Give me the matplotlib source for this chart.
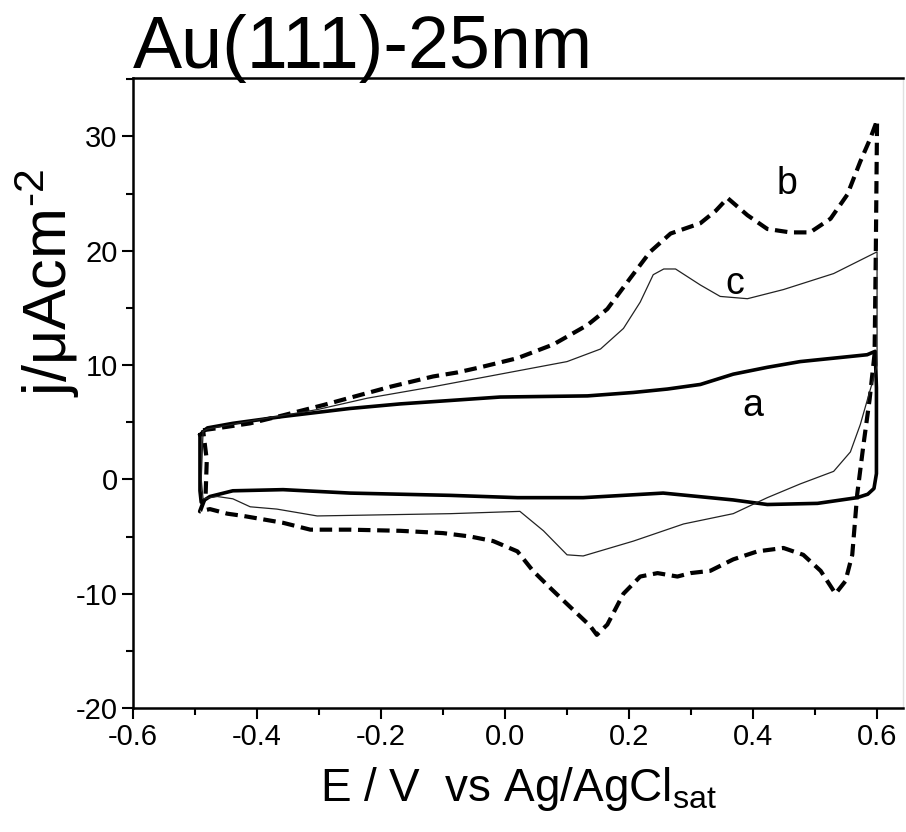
import matplotlib.pyplot as plt
from matplotlib.ticker import MultipleLocator

plt.rcParams['font.family'] = ['Liberation Sans', 'DejaVu Sans']
plt.rcParams['mathtext.fontset'] = 'custom'
plt.rcParams['mathtext.rm'] = 'Liberation Sans'
plt.rcParams['mathtext.it'] = 'Liberation Sans'
plt.rcParams['axes.unicode_minus'] = False

#Curve a - thick solid
E_a = [-0.492, -0.48, -0.439, -0.358, -0.250, -0.169, -0.088, -0.008, 0.133, 0.207,
       0.262, 0.315, 0.368, 0.423, 0.476, 0.530, 0.584, 0.597, 0.599, 0.599,
       0.595, 0.585, 0.568, 0.504, 0.423, 0.368, 0.255, 0.126, 0.020, -0.088,
       -0.250, -0.358, -0.439, -0.476, -0.490, -0.492, -0.492]
j_a = [3.9, 4.5, 4.9, 5.5, 6.2, 6.6, 6.9, 7.2, 7.3, 7.6,
       7.9, 8.3, 9.2, 9.8, 10.3, 10.6, 10.9, 11.2, 8.0, 0.5,
       -0.8, -1.3, -1.6, -2.1, -2.2, -1.8, -1.2, -1.6, -1.6, -1.4,
       -1.2, -0.9, -1.0, -1.5, -2.0, -1.0, 3.9]

#Curve b - dashed
E_b = [-0.487, -0.448, -0.411, -0.358, -0.293, -0.239, -0.185, -0.116, -0.077, -0.040,
       0.020, 0.078, 0.133, 0.165, 0.202, 0.234, 0.267, 0.315, 0.340, 0.359,
       0.391, 0.423, 0.460, 0.492, 0.525, 0.552, 0.573, 0.589, 0.600,
       0.598, 0.596, 0.588, 0.578, 0.568, 0.560, 0.549, 0.533,
       0.509, 0.481, 0.449, 0.407, 0.368, 0.331, 0.299, 0.278, 0.246, 0.218,
       0.191, 0.165, 0.148, 0.137, 0.100, 0.073, 0.045, 0.020, -0.019, -0.056,
       -0.100, -0.169, -0.250, -0.314, -0.358, -0.390, -0.422, -0.448, -0.476, -0.492,
       -0.483, -0.481, -0.487]
j_b = [4.3, 4.6, 4.9, 5.6, 6.5, 7.3, 8.1, 9.0, 9.35, 9.8,
       10.6, 11.8, 13.5, 14.9, 17.6, 19.9, 21.5, 22.4, 23.5, 24.6,
       23.1, 21.9, 21.6, 21.6, 22.8, 24.9, 27.8, 29.8, 31.4,
       20.0, 11.0, 7.0, 3.0, -1.3, -6.6, -8.9, -10.0,
       -8.0, -6.6, -6.0, -6.3, -7.0, -8.0, -8.2, -8.5, -8.2, -8.5,
       -10.0, -12.7, -13.6, -12.8, -10.9, -9.5, -8.0, -6.3, -5.4, -5.0,
       -4.7, -4.5, -4.4, -4.4, -3.8, -3.5, -3.2, -3.0, -2.6, -2.8,
       -1.5, 1.7, 4.3]

#Curve c - thin solid
E_c = [-0.487, -0.48, -0.411, -0.303, -0.222, -0.116, -0.008, 0.100, 0.154, 0.191,
       0.218, 0.239, 0.256, 0.275, 0.315, 0.347, 0.391, 0.449, 0.530, 0.600,
       0.600, 0.593, 0.573, 0.557, 0.530, 0.476, 0.423, 0.368, 0.288, 0.207,
       0.126, 0.100, 0.062, 0.024, -0.088, -0.303, -0.368, -0.411, -0.439, -0.464,
       -0.487, -0.490, -0.487]
j_c = [4.2, 4.4, 5.1, 6.1, 7.1, 8.1, 9.2, 10.3, 11.4, 13.2,
       15.5, 17.9, 18.4, 18.4, 17.0, 16.0, 15.8, 16.6, 18.0, 19.9,
       10.0, 8.6, 4.8, 2.4, 0.7, -0.4, -1.6, -3.0, -3.9, -5.4,
       -6.7, -6.6, -4.5, -2.8, -3.0, -3.2, -2.6, -2.4, -1.7, -1.5,
       -1.7, 0.0, 4.2]

#Curve labels
label_text = ['a', 'b', 'c']
label_E = [0.399, 0.455, 0.371]
label_j = [6.4, 25.8, 17.1]

x_ticks = [-0.6, -0.4, -0.2, 0.0, 0.2, 0.4, 0.6]
x_ticklabels = ['-0.6', '-0.4', '-0.2', '0.0', '0.2', '0.4', '0.6']

fig = plt.figure(figsize=(9.06, 8.32), dpi=100)
ax = fig.add_axes([0.1468, 0.149, 0.85, 0.7572])

ax.plot(E_a, j_a, color='black', lw=2.6, solid_joinstyle='round')
ax.plot(E_b, j_b, color='black', lw=3.0, linestyle=(0, (3, 1.6)))
ax.plot(E_c, j_c, color='#222222', lw=0.9)

for t, x, y in zip(label_text, label_E, label_j):
    ax.text(x, y, t, fontsize=27, ha='center', va='center')

ax.set_xlim(-0.6, 0.642)
ax.set_ylim(-20, 35.1)
ax.set_xticks(x_ticks)
ax.set_xticklabels(x_ticklabels)
ax.xaxis.set_minor_locator(MultipleLocator(0.1))
ax.yaxis.set_major_locator(MultipleLocator(10))
ax.yaxis.set_minor_locator(MultipleLocator(5))

ax.tick_params(which='major', direction='out', length=8, width=1.5, labelsize=21, pad=3)
ax.tick_params(which='minor', direction='out', length=5, width=1.5)
ax.tick_params(top=False, right=False, which='both')

for side in ['left', 'bottom', 'top']:
    ax.spines[side].set_linewidth(1.8)
ax.spines['right'].set_linewidth(1.0)
ax.spines['right'].set_color('#e0e0e0')

ax.set_xlabel('E / V  vs Ag/AgCl$_{\\mathrm{sat}}$', fontsize=33, labelpad=10)
ax.set_ylabel('j/\u03bcAcm$^{\\mathrm{\u2010 2}}$', fontsize=44)
ax.yaxis.set_label_coords(-0.066, 0.675)

fig.text(0.1468, 0.918, 'Au(111)-25nm', fontsize=53, ha='left', va='baseline')

plt.savefig('out.png')
